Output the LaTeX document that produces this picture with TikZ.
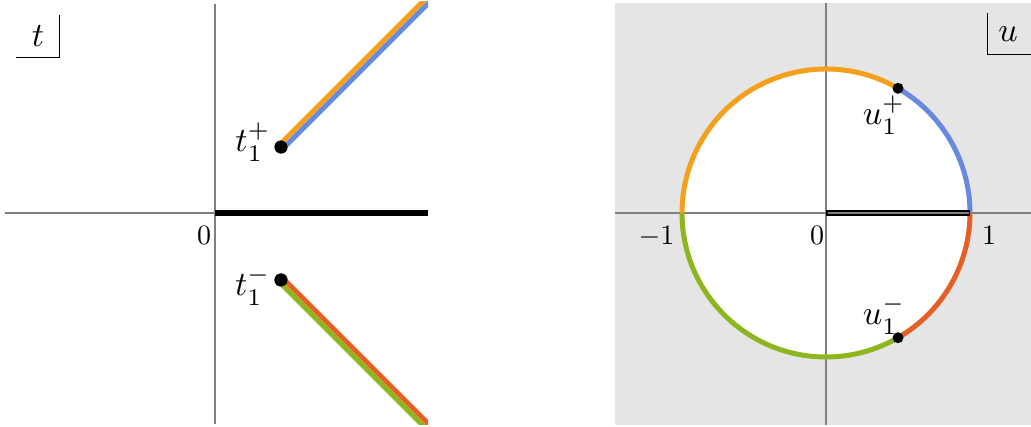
\documentclass[tikz,border=0pt]{standalone}
\usetikzlibrary{calc}
\definecolor{cblue}{RGB}{104,138,222}
\definecolor{corange}{RGB}{245,160,26}
\definecolor{cred}{RGB}{228,96,36}
\definecolor{cgreen}{RGB}{140,182,30}
\definecolor{axisgray}{RGB}{128,128,128}
\definecolor{bggray}{RGB}{229,229,229}
\tikzset{
  axis/.style={draw=axisgray, line width=1.6pt},
  branch/.style={line width=5pt},
  pt/.style={circle, fill=black, inner sep=0pt, minimum size=13pt},
  lbl/.style={font=\normalsize, scale=3.4, inner sep=0pt},
  tick/.style={font=\normalsize, scale=2.8, inner sep=0pt},
  frame/.style={draw=black, line width=1pt}
}
\begin{document}
\begin{tikzpicture}[x=1pt,y=1pt]
\useasboundingbox (0,0) rectangle (1031,426);
% ---------------- left panel ----------------
\coordinate (tO) at (215,213);
\coordinate (tR) at (428,213);
\coordinate (tL) at (5,213);
\coordinate (tT) at (215,422);
\coordinate (tB) at (215,2);
\draw[axis] (tL) -- (tO);
\draw[axis] (tB) -- (tT);
\draw[line width=6pt, black] (tO) -- (tR);
\node[tick, anchor=base] (zeroL) at (204,181) {$0$};
\begin{scope}
\clip (5,2) rectangle (428,424);
\node[pt] (tp) at (281,279) {};
\node[pt] (tm) at (281,146) {};
\coordinate (tpEnd) at (460,458);
\coordinate (tmEnd) at (460,-33);
\draw[branch, corange] ($(tp.center)+(-1.77,1.77)$) -- ($(tpEnd)+(-1.77,1.77)$);
\draw[branch, cblue] ($(tp.center)+(1.77,-1.77)$) -- ($(tpEnd)+(1.77,-1.77)$);
\draw[branch, cred] ($(tm.center)+(1.77,1.77)$) -- ($(tmEnd)+(1.77,1.77)$);
\draw[branch, cgreen] ($(tm.center)+(-1.77,-1.77)$) -- ($(tmEnd)+(-1.77,-1.77)$);
\node[pt] at (tp) {};
\node[pt] at (tm) {};
\end{scope}
\node[lbl, anchor=base east] (tpl) at (271,274) {$t_1^+$};
\node[lbl, anchor=base east] (tml) at (271,130) {$t_1^-$};
% t box
\node[lbl, anchor=base] (tlab) at (38,379) {$t$};
\coordinate (tb1) at (16,368.5);
\coordinate (tb2) at (59,368.5);
\coordinate (tb3) at (59,411);
\draw[frame] (tb1) -- (tb2) -- (tb3);
% ---------------- right panel ----------------
\fill[bggray] (615,1) rectangle (1031,423);
\coordinate (uO) at (826,213);
\fill[white] (uO) circle (144);
\coordinate (uL) at (615,213);
\coordinate (uR) at (1031,213);
\coordinate (uT) at (826,423);
\coordinate (uB) at (826,1);
\draw[axis] (uL) -- (uR);
\draw[axis] (uB) -- (uT);
\draw[branch, cblue]   ($(uO)+(0:144)$) arc[start angle=0, end angle=60, radius=144];
\draw[branch, corange] ($(uO)+(60:144)$) arc[start angle=60, end angle=180, radius=144];
\draw[branch, cgreen]  ($(uO)+(180:144)$) arc[start angle=180, end angle=300, radius=144];
\draw[branch, cred]    ($(uO)+(300:144)$) arc[start angle=300, end angle=360, radius=144];
\coordinate (uOne) at (970,213);
\draw[black, line width=5.5pt] (uO) -- (uOne);
\draw[axisgray, line width=2pt] ($(uO)+(1.5,0)$) -- ($(uOne)+(-1.5,0)$);
\node[pt, minimum size=11pt] (up) at ($(uO)+(60:144)$) {};
\node[pt, minimum size=11pt] (um) at ($(uO)+(-60:144)$) {};
\node[lbl, anchor=base] (upl) at (884,301) {$u_1^+$};
\node[lbl, anchor=base] (uml) at (884,101) {$u_1^-$};
\node[tick, anchor=base] (m1) at (656.5,181) {$-1$};
\node[tick, anchor=base] (z0) at (817,181) {$0$};
\node[tick, anchor=base] (p1) at (989,181) {$1$};
% u box
\node[lbl, anchor=base] (ulab) at (1008,384) {$u$};
\coordinate (ub1) at (987,413);
\coordinate (ub2) at (987,371);
\coordinate (ub3) at (1031,371);
\draw[frame] (ub1) -- (ub2) -- (ub3);
\end{tikzpicture}
\end{document}
